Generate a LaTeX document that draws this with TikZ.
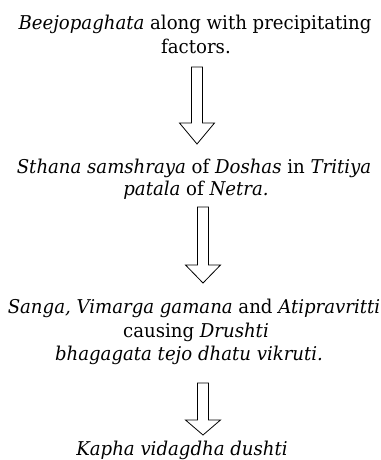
\documentclass[tikz,border=0pt]{standalone}
\usepackage{fontspec}
\setmainfont[FakeStretch=1.06]{DejaVu Serif Condensed}
\begin{document}
\begin{tikzpicture}[x=1pt,y=-1pt,
  txt/.style={inner sep=0pt,anchor=center,font=\fontsize{19}{22}\selectfont},
  blockarrow/.style={draw=black,line width=0.8pt,fill=white,line join=miter}]
\useasboundingbox (0,0) rectangle (380,460);
\node[txt] (t1) at (195,24) {\textit{Beejopaghata} along with precipitating};
\node[txt] (t2) at (196,46) {factors.};
\node[txt] (t3) at (194,168) {\textit{Sthana samshraya} of \textit{Doshas} in \textit{Tritiya}};
\node[txt] (t4) at (196,190) {\textit{patala} of \textit{Netra.}};
\node[txt] (t5) at (194,308) {\textit{Sanga, Vimarga gamana} and \textit{Atipravritti}};
\node[txt] (t6) at (196,332) {causing \textit{Drushti}};
\node[txt] (t7) at (189,355) {\textit{bhagagata tejo dhatu vikruti.}};
\node[txt] (t8) at (182,450) {\textit{Kapha vidagdha dushti}};
% block arrows
\newcommand{\blockarr}[4]{% cx, top, base, tip
  \draw[blockarrow] (#1-5.5,#2) -- (#1+5.5,#2) -- (#1+5.5,#3) -- (#1+17.5,#3) -- (#1,#4) -- (#1-17.5,#3) -- (#1-5.5,#3) -- cycle;}
\blockarr{197}{67}{123}{144}
\blockarr{203}{207}{265}{283}
\blockarr{203}{383}{420}{435}
\end{tikzpicture}
\end{document}
